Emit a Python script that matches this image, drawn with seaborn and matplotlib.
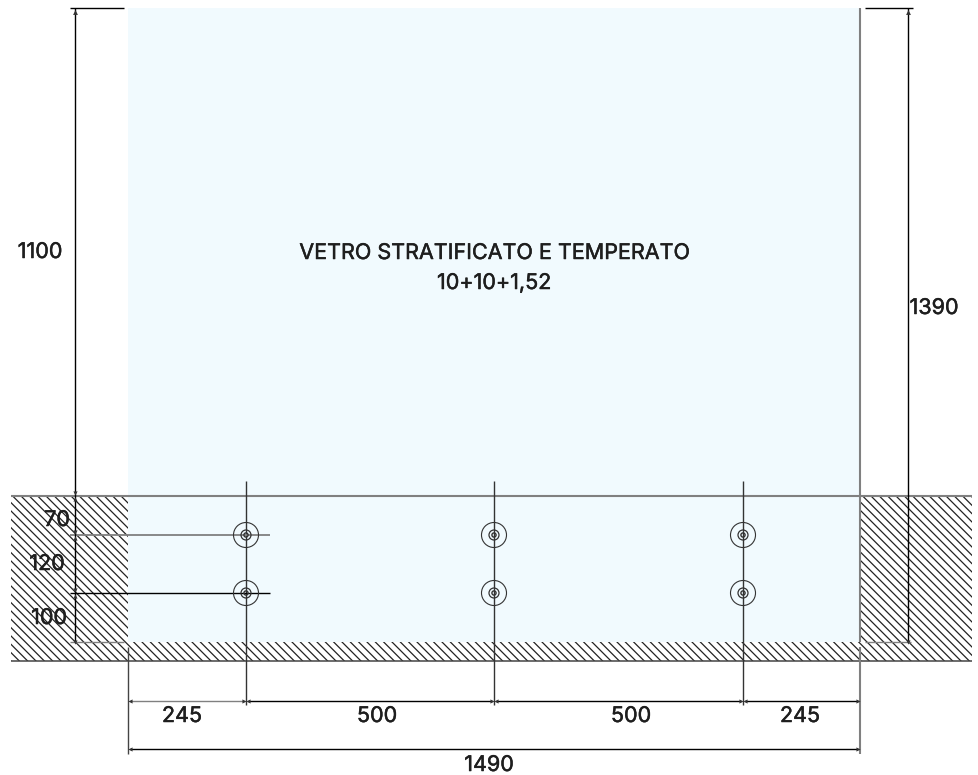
import numpy as np
import pandas as pd
import matplotlib
matplotlib.use("Agg")
import matplotlib.pyplot as plt
import matplotlib.patheffects as pe
from matplotlib.patches import Rectangle
import seaborn as sns

# dimensions of the drawing, mm
glass_width = 1490
glass_height = 1390
bolt_x_mm = [245, 745, 1245]
bolt_y_mm = [100, 220]
floor_top_mm = 290

width_dims = [245, 500, 500, 245]
height_dims = [100, 120, 70, 1100]
title_lines = ["VETRO STRATIFICATO E TEMPERATO", "10+10+1,52"]

# the sheet is not drawn to one scale, so mm map to pixels piecewise
X_MM = [-262.6, 0, 245, 745, 1245, 1490, 1730]
X_PX = [0, 128.5, 246, 494, 743, 860, 979]
Y_MM = [-271, 0, 100, 220, 290, 1390, 1408]
Y_PX = [0, 133, 182, 240, 279, 767, 775]

GLASS = "#F1FAFE"
INK = "#1E1E1E"
GREY = "#808080"
THIN = 1.0


def x_fwd(v):
    return np.interp(v, X_MM, X_PX)


def x_inv(v):
    return np.interp(v, X_PX, X_MM)


def y_fwd(v):
    return np.interp(v, Y_MM, Y_PX)


def y_inv(v):
    return np.interp(v, Y_PX, Y_MM)


def xp(px):
    return float(x_inv(px))


def yp(px):
    # pixel row counted from the top of the sheet
    return float(y_inv(775 - px))


def hline(ax, y, x0, x1, color="black", lw=THIN):
    ax.plot([x0, x1], [y, y], color=color, lw=lw, solid_capstyle="butt", zorder=4)


def vline(ax, x, y0, y1, color="black", lw=THIN):
    ax.plot([x, x], [y0, y1], color=color, lw=lw, solid_capstyle="butt", zorder=4)


def h_dim(ax, y, x0, x1, color="black"):
    left, right = xp(x_fwd(x0) + 2), xp(x_fwd(x1) - 2)
    hline(ax, y, left, right, color=color)
    ax.plot([left], [y], marker="<", ms=3, color="#333333", mew=0, zorder=5)
    ax.plot([right], [y], marker=">", ms=3, color="#333333", mew=0, zorder=5)


def v_dim(ax, x, y0, y1):
    vline(ax, x, y0, y1)
    ax.plot([x], [yp(12)], marker="^", ms=3.5, color="#333333", mew=0, zorder=5)
    ax.plot([x], [y0], marker="v", ms=3, color="#333333", mew=0, zorder=5)


def label(ax, px, py, s):
    # +2: va=center sits a little high for this font
    ax.text(xp(px), yp(py + 2), str(s), ha="center", va="center", fontsize=15.5, color=INK, zorder=7,
            path_effects=[pe.withStroke(linewidth=0.35, foreground=INK)])


sns.set_theme(style="white")
plt.rcParams["font.family"] = ["Inter", "DejaVu Sans"]
plt.rcParams["hatch.linewidth"] = 0.9
plt.rcParams["hatch.color"] = "#222222"

fig = plt.figure(figsize=(9.79, 7.75), dpi=100)
ax = fig.add_axes([0, 0, 1, 1])
ax.set_xscale("function", functions=(x_fwd, x_inv))
ax.set_yscale("function", functions=(y_fwd, y_inv))
ax.set_xlim(X_MM[0], X_MM[-1])
ax.set_ylim(Y_MM[0], Y_MM[-1])
ax.set_axis_off()

# walls and floor
wall_bottom = yp(661)
wall_left = xp(11)
wall_right = xp(972)
for x0, x1, y0, y1 in [(wall_left, 0, wall_bottom, floor_top_mm),
                       (glass_width, wall_right, wall_bottom, floor_top_mm),
                       (0, glass_width, wall_bottom, 0)]:
    ax.add_patch(Rectangle((x0, y0), x1 - x0, y1 - y0, facecolor="white",
                           edgecolor="#222222", hatch="\\\\\\\\", lw=0, zorder=1))

ax.add_patch(Rectangle((0, 0), glass_width, glass_height, facecolor=GLASS, lw=0, zorder=2))

hline(ax, floor_top_mm, wall_left, wall_right, color=GREY, lw=1.5)
hline(ax, wall_bottom, wall_left, wall_right, color="#444444", lw=1.1)
vline(ax, glass_width, 0, glass_height, color=GREY, lw=1.5)

# extension lines
vline(ax, 0, yp(647), yp(754), color="#444444", lw=1.0)
vline(ax, glass_width, yp(647), yp(754), color=GREY, lw=1.5)
for x in bolt_x_mm:
    vline(ax, x, yp(481), yp(705), color="#333333", lw=1.0)
hline(ax, glass_height, xp(70), xp(124))
hline(ax, glass_height, xp(865), xp(913))
hline(ax, 0, xp(70), xp(124), color=GREY, lw=1.0)
hline(ax, 0, xp(865), xp(911), color=GREY, lw=1.0)
hline(ax, bolt_y_mm[1], xp(70), xp(270), color=GREY, lw=1.3)
hline(ax, bolt_y_mm[0], xp(70), xp(270))

# height chains
v_dim(ax, xp(75), 0, glass_height)
v_dim(ax, xp(908), 0, glass_height)
for y in bolt_y_mm + [floor_top_mm]:
    ax.plot([xp(75)], [y + 6], marker="v", ms=3, color="#333333", mew=0, zorder=5)
    ax.plot([xp(75)], [y - 6], marker="^", ms=3, color="#333333", mew=0, zorder=5)

# width chains
stations = np.cumsum([0] + width_dims)
dim_y = yp(700.7)
for i, (x0, x1) in enumerate(zip(stations[:-1], stations[1:])):
    h_dim(ax, dim_y, x0, x1, color=GREY if i == 0 else "black")
h_dim(ax, yp(749), 0, glass_width)

# bolts
bolts = pd.DataFrame([(x, y) for x in bolt_x_mm for y in bolt_y_mm], columns=["x", "y"])
for ring, lw in [(18.0, 0.8), (7.2, 0.9), (3.0, 1.0)]:
    sns.scatterplot(data=bolts, x="x", y="y", ax=ax, s=ring ** 2, marker="o",
                    facecolors="none", edgecolor="#333333", linewidth=lw,
                    zorder=6, legend=False)
ax.set_xlabel("")
ax.set_ylabel("")

# labels
label(ax, 494, 251, title_lines[0])
label(ax, 494, 281, title_lines[1])
label(ax, 40, 250, height_dims[3])
label(ax, 934, 306, glass_height)
for px, py, val in zip([57, 47, 49], [518, 562, 616], height_dims[2::-1]):
    label(ax, px, py, val)
for px, val in zip([182, 377, 631, 800], width_dims):
    label(ax, px, 714, val)
label(ax, 489, 763, glass_width)

fig.savefig("out.png", dpi=100)
